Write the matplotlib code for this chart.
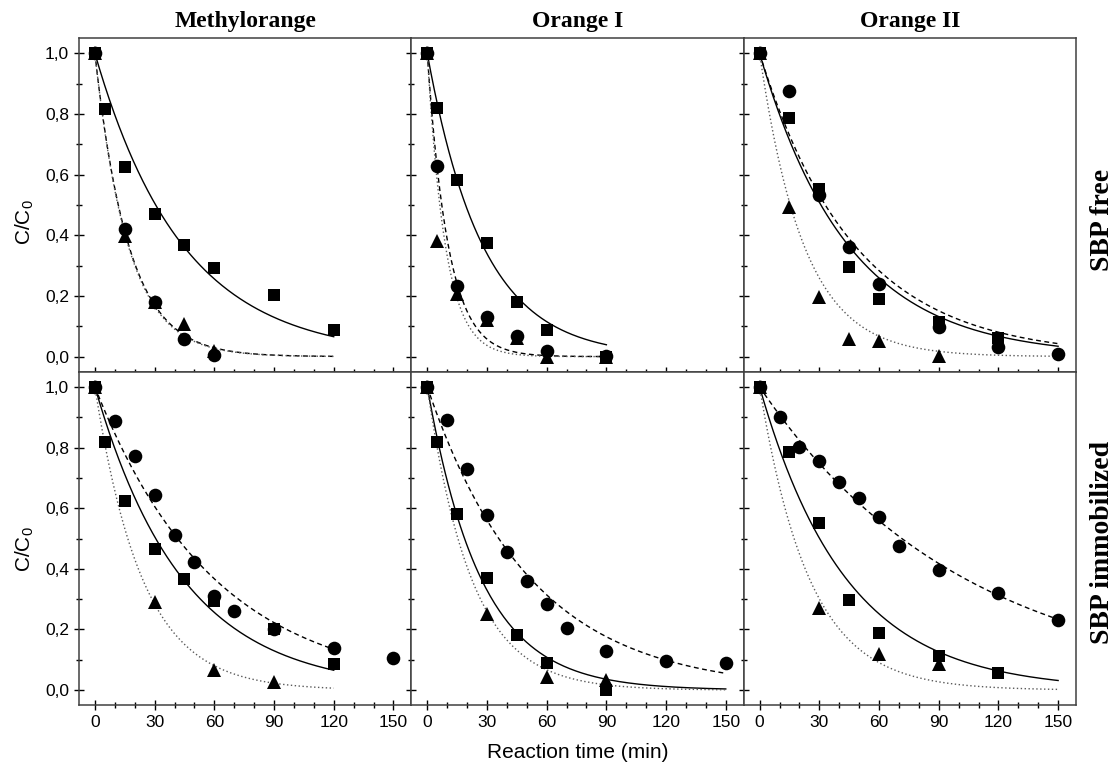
import numpy as np
import matplotlib.pyplot as plt
from matplotlib.ticker import MultipleLocator, FuncFormatter

plt.rcParams['font.family'] = ['Liberation Sans', 'DejaVu Sans']
plt.rcParams['mathtext.fontset'] = 'custom'
plt.rcParams['mathtext.rm'] = 'Liberation Sans'
plt.rcParams['mathtext.it'] = 'Liberation Sans'

dyes = ['Methylorange', 'Orange I', 'Orange II']
rows = ['SBP free', 'SBP immobilized']

# SBP free
mo_free_sq_t = [0, 5, 15, 30, 45, 60, 90, 120]
mo_free_sq = [1.0, 0.816, 0.627, 0.469, 0.368, 0.291, 0.203, 0.088]
mo_free_ci_t = [0, 15, 30, 45, 60]
mo_free_ci = [1.0, 0.42, 0.179, 0.057, 0.006]
mo_free_tr_t = [0, 15, 30, 45, 60]
mo_free_tr = [1.0, 0.397, 0.18, 0.107, 0.02]

o1_free_t = [0, 5, 15, 30, 45, 60, 90]
o1_free_sq = [1.0, 0.819, 0.582, 0.374, 0.181, 0.088, 0.0]
o1_free_ci = [1.0, 0.63, 0.233, 0.132, 0.068, 0.02, 0.003]
o1_free_tr = [1.0, 0.382, 0.205, 0.12, 0.06, 0.0, 0.0]

o2_free_sq_t = [0, 15, 30, 45, 60, 90, 120]
o2_free_sq = [1.0, 0.788, 0.552, 0.297, 0.189, 0.113, 0.061]
o2_free_ci_t = [0, 15, 30, 45, 60, 90, 120, 150]
o2_free_ci = [1.0, 0.877, 0.533, 0.363, 0.24, 0.099, 0.032, 0.01]
o2_free_tr_t = [0, 15, 30, 45, 60, 90]
o2_free_tr = [1.0, 0.494, 0.197, 0.058, 0.05, 0.003]

# SBP immobilized
mo_imm_sq_t = [0, 5, 15, 30, 45, 60, 90, 120]
mo_imm_sq = [1.0, 0.817, 0.625, 0.466, 0.367, 0.294, 0.203, 0.086]
mo_imm_ci_t = [0, 10, 20, 30, 40, 50, 60, 70, 90, 120, 150]
mo_imm_ci = [1.0, 0.888, 0.773, 0.645, 0.513, 0.424, 0.309, 0.26, 0.203, 0.14, 0.106]
mo_imm_tr_t = [0, 30, 60, 90]
mo_imm_tr = [1.0, 0.29, 0.068, 0.027]

o1_imm_sq_t = [0, 5, 15, 30, 45, 60, 90]
o1_imm_sq = [1.0, 0.819, 0.581, 0.371, 0.181, 0.088, 0.0]
o1_imm_ci_t = [0, 10, 20, 30, 40, 50, 60, 70, 90, 120, 150]
o1_imm_ci = [1.0, 0.89, 0.729, 0.578, 0.455, 0.36, 0.285, 0.205, 0.128, 0.095, 0.088]
o1_imm_tr_t = [0, 30, 60, 90]
o1_imm_tr = [1.0, 0.25, 0.042, 0.035]

o2_imm_sq_t = [0, 15, 30, 45, 60, 90, 120]
o2_imm_sq = [1.0, 0.787, 0.551, 0.296, 0.189, 0.112, 0.057]
o2_imm_ci_t = [0, 10, 20, 30, 40, 50, 60, 70, 90, 120, 150]
o2_imm_ci = [1.0, 0.901, 0.803, 0.757, 0.685, 0.633, 0.572, 0.475, 0.395, 0.32, 0.232]
o2_imm_tr_t = [0, 30, 60, 90]
o2_imm_tr = [1.0, 0.271, 0.12, 0.085]

# first order fits: rate constants (1/min) for
# squares (solid), circles (dashed), triangles (dotted) and fit end time
k_free = [(0.0227, 0.059, 0.060), (0.036, 0.095, 0.11), (0.0225, 0.021, 0.045)]
k_imm = [(0.0227, 0.0167, 0.042), (0.037, 0.0193, 0.045), (0.023, 0.0097, 0.040)]
fit_end_free = [120, 90, 150]
fit_end_imm = [120, 150, 150]

data = [
    [((mo_free_sq_t, mo_free_sq), (mo_free_ci_t, mo_free_ci), (mo_free_tr_t, mo_free_tr)),
     ((o1_free_t, o1_free_sq), (o1_free_t, o1_free_ci), (o1_free_t, o1_free_tr)),
     ((o2_free_sq_t, o2_free_sq), (o2_free_ci_t, o2_free_ci), (o2_free_tr_t, o2_free_tr))],
    [((mo_imm_sq_t, mo_imm_sq), (mo_imm_ci_t, mo_imm_ci), (mo_imm_tr_t, mo_imm_tr)),
     ((o1_imm_sq_t, o1_imm_sq), (o1_imm_ci_t, o1_imm_ci), (o1_imm_tr_t, o1_imm_tr)),
     ((o2_imm_sq_t, o2_imm_sq), (o2_imm_ci_t, o2_imm_ci), (o2_imm_tr_t, o2_imm_tr))],
]
rates = [k_free, k_imm]
ends = [fit_end_free, fit_end_imm]

markers = ['s', 'o', '^']
msizes = [9.3, 9.8, 10.3]
line_styles = ['-', (0, (3.5, 2.5)), (0, (1, 1.8))]
line_colors = ['black', 'black', '0.35']

fig, axes = plt.subplots(2, 3, figsize=(11.19, 7.73), dpi=100, sharex=True, sharey=True)
fig.subplots_adjust(left=0.0706, right=0.9616, bottom=0.0876, top=0.9505, wspace=0, hspace=0)

comma = FuncFormatter(lambda v, p: f'{v:.1f}'.replace('.', ','))

for r in range(2):
    for c in range(3):
        ax = axes[r, c]
        for s in range(3):
            k = rates[r][c][s]
            tt = np.linspace(0, ends[r][c], 200)
            ax.plot(tt, np.exp(-k * tt), linestyle=line_styles[s], color=line_colors[s], lw=1.0, zorder=2)
        for s in range(3):
            t, y = data[r][c][s]
            ax.plot(t, y, linestyle='none', marker=markers[s], ms=msizes[s], color='black',
                    markeredgewidth=0, zorder=3)
        ax.set_xlim(-8, 159)
        ax.set_ylim(-0.05, 1.05)
        ax.xaxis.set_major_locator(MultipleLocator(30))
        ax.xaxis.set_minor_locator(MultipleLocator(10))
        ax.yaxis.set_major_locator(MultipleLocator(0.2))
        ax.yaxis.set_minor_locator(MultipleLocator(0.1))
        ax.yaxis.set_major_formatter(comma)
        ax.tick_params(which='major', direction='inout', length=7.5, width=1.0, labelsize=12.5)
        ax.tick_params(which='minor', direction='inout', length=4, width=1.0)
        for sp in ax.spines.values():
            sp.set_color('0.25')
            sp.set_linewidth(1.1)
        if r == 0:
            ax.set_title(dyes[c], fontsize=17, fontweight='bold', family='Liberation Serif', pad=8)

fig.text(0.0223, 0.713, 'C/C$_0$', rotation=90, ha='center', va='center', fontsize=15)
fig.text(0.0223, 0.29, 'C/C$_0$', rotation=90, ha='center', va='center', fontsize=15)
fig.text(0.516, 0.027, 'Reaction time (min)', ha='center', va='center', fontsize=15)
fig.text(0.9857, 0.715, rows[0], rotation=90, ha='center', va='center', fontsize=20,
         fontweight='bold', family='Liberation Serif')
fig.text(0.9857, 0.2988, rows[1], rotation=90, ha='center', va='center', fontsize=20,
         fontweight='bold', family='Liberation Serif')

fig.savefig('out.png', dpi=100)
